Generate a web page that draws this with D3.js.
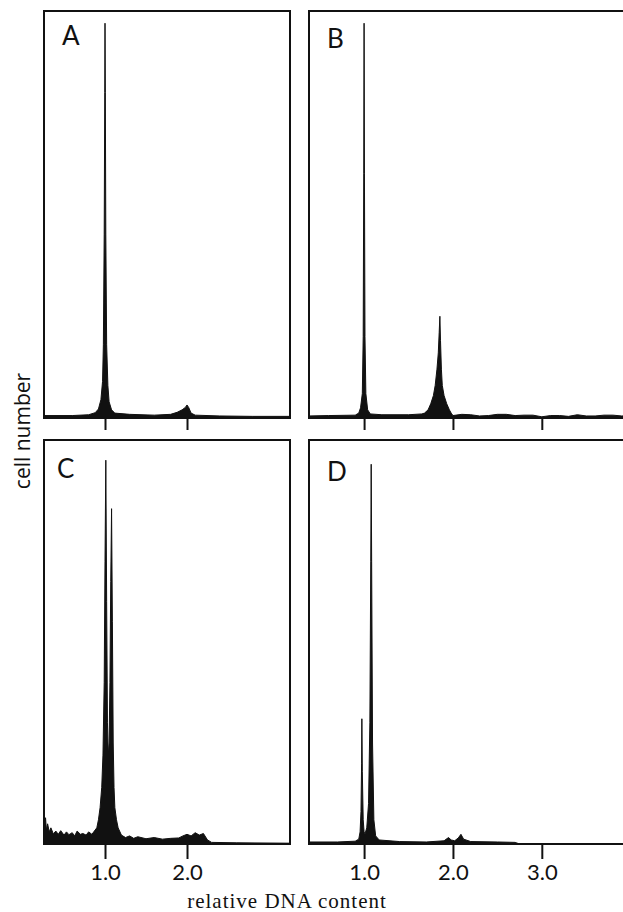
<!DOCTYPE html>
<html>
<head>
<meta charset="utf-8">
<script src="https://cdn.jsdelivr.net/npm/d3@7"></script>
<style>
  html, body { margin: 0; padding: 0; background: #fff; }
  svg { display: block; }
</style>
</head>
<body>
<svg id="chart" width="623" height="912"></svg>
<script>
// ---------------- DATA ----------------
// Relative DNA content (x) and cell number (y, % of panel height) for each histogram
const panelLabels = ["A", "B", "C", "D"];
const tickValuesAC = [1, 2];
const tickValuesBD = [1, 2, 3];
const tickLabels = { 1: "1.0", 2: "2.0", 3: "3.0" };
const yAxisTitle = "cell number";
const xAxisTitle = "relative DNA content";

const dnaA   = [0.26,0.6,0.8,0.88,0.92,0.95,0.97,0.98,0.99,0.997,1.0,1.004,1.01,1.02,1.035,1.05,1.08,1.12,1.3,1.6,1.8,1.88,1.94,1.98,2.0,2.02,2.05,2.1,2.4,2.8,3.25];
const countA = [0.6,0.6,0.8,1.3,2.2,4.5,9,18,45,80,97,80,45,18,8,4,2,1.2,0.9,0.7,0.9,1.4,2.0,2.6,3.2,2.6,1.2,0.7,0.5,0.4,0.4];

const dnaB   = [0.38,0.6,0.9,0.94,0.96,0.98,0.99,0.996,1.0,1.004,1.01,1.02,1.04,1.07,1.2,1.5,1.65,1.68,1.72,1.75,1.78,1.80,1.82,1.835,1.845,1.853,1.86,1.87,1.88,1.90,1.93,1.96,1.98,2.0,2.1,2.2,2.3,2.4,2.5,2.6,2.7,2.8,2.9,3.0,3.1,3.2,3.3,3.4,3.5,3.6,3.7,3.8,3.9,3.97];
const countB = [0.5,0.6,0.7,1.2,2.5,6,20,60,97,60,20,6,2.0,1.0,0.8,0.8,1.0,1.2,2,3.5,5.5,8,12,16,21,25,19,12,8,5.5,3.5,2,1.2,0.6,0.9,0.8,0.5,0.6,0.9,0.9,0.6,0.7,0.7,0.3,0.6,0.6,0.4,0.8,0.5,0.5,0.7,0.7,0.5,0.6];

const dnaC   = [0.256,0.265,0.275,0.285,0.3,0.32,0.34,0.37,0.4,0.43,0.46,0.5,0.53,0.56,0.6,0.63,0.66,0.7,0.73,0.77,0.8,0.84,0.87,0.9,0.92,0.94,0.96,0.975,0.99,1.0,1.01,1.02,1.03,1.04,1.05,1.06,1.07,1.08,1.09,1.1,1.11,1.12,1.14,1.16,1.2,1.25,1.3,1.35,1.4,1.5,1.6,1.7,1.8,1.9,1.95,2.0,2.05,2.1,2.15,2.2,2.25,2.3,2.6,3.256];
const countC = [6,4,6.5,3.5,5,3,4,2.5,3.2,2.4,3.3,2.2,3.0,2.3,2.8,2.0,3.2,2.4,2.6,2.2,3.0,2.4,3.2,4,6,9,14,22,40,70,95,60,30,22,25,40,65,83,55,25,14,9,6,4,2.2,1.6,2.0,1.4,1.8,1.3,1.6,1.2,1.4,1.5,2.0,2.4,2.0,2.8,2.2,2.6,1.0,0.4,0.3,0.2];

const dnaD   = [0.38,0.7,0.9,0.94,0.955,0.965,0.972,0.975,0.98,0.99,1.0,1.01,1.03,1.05,1.065,1.075,1.08,1.085,1.095,1.11,1.13,1.17,1.4,1.7,1.9,1.95,1.98,2.02,2.06,2.09,2.12,2.2,2.5,2.7,2.75,3.97];
const countD = [0.5,0.5,0.7,1.2,3,8,20,31,18,6,3,2.5,4,10,30,70,94,70,25,6,2,1.0,0.6,0.5,0.8,1.6,1.0,0.8,1.5,2.4,1.2,0.6,0.5,0.4,0,0];

// ---------------- LAYOUT ----------------
const svg = d3.select("#chart");
const panels = [
  { label: panelLabels[0], x: dnaA, y: countA, domain: [0.256, 3.256], left: 44,  right: 290, top: 11,  bottom: 418, ticks: tickValuesAC, tickLen: 12, showLabels: false, lx: 62,  ly: 45 },
  { label: panelLabels[1], x: dnaB, y: countB, domain: [0.38, 3.97],   left: 309, right: 628, top: 11,  bottom: 418, ticks: tickValuesBD, tickLen: 12, showLabels: false, lx: 327, ly: 48 },
  { label: panelLabels[2], x: dnaC, y: countC, domain: [0.256, 3.256], left: 44,  right: 290, top: 440, bottom: 844, ticks: tickValuesAC, tickLen: 15, showLabels: true,  lx: 57,  ly: 478 },
  { label: panelLabels[3], x: dnaD, y: countD, domain: [0.38, 3.97],   left: 309, right: 628, top: 440, bottom: 844, ticks: tickValuesBD, tickLen: 15, showLabels: true,  lx: 327, ly: 481 }
];

panels.forEach(p => {
  const g = svg.append("g");
  const xs = d3.scaleLinear().domain(p.domain).range([p.left, p.right]);
  const ys = d3.scaleLinear().domain([0, 100]).range([p.bottom, p.top]);
  const data = p.x.map((v, i) => [v, p.y[i]]);

  const area = d3.area()
    .x(d => xs(d[0]))
    .y0(ys(0))
    .y1(d => ys(d[1]))
    .curve(d3.curveLinear);

  g.append("path")
    .datum(data)
    .attr("d", area)
    .attr("fill", "#111")
    .attr("stroke", "#111")
    .attr("stroke-width", 1)
    .attr("stroke-linejoin", "round");

  // frame
  g.append("rect")
    .attr("x", p.left).attr("y", p.top)
    .attr("width", p.right - p.left).attr("height", p.bottom - p.top)
    .attr("fill", "none").attr("stroke", "#111").attr("stroke-width", 2);

  // axis ticks
  const axis = d3.axisBottom(xs)
    .tickValues(p.ticks)
    .tickSize(p.tickLen)
    .tickPadding(5)
    .tickFormat(d => p.showLabels ? tickLabels[d] : "");
  const ag = g.append("g")
    .attr("transform", `translate(0,${p.bottom})`)
    .call(axis);
  ag.select(".domain").remove();
  ag.selectAll(".tick line").attr("stroke", "#111").attr("stroke-width", 2);
  ag.selectAll(".tick text")
    .attr("fill", "#111")
    .style("font-family", "Lato, 'Open Sans', sans-serif")
    .style("font-size", "22px");

  // panel label
  g.append("text")
    .attr("x", p.lx).attr("y", p.ly)
    .text(p.label)
    .style("font-family", "Lato, 'Open Sans', sans-serif")
    .style("font-size", "26px")
    .attr("fill", "#111");
});

// axis titles
svg.append("text")
  .attr("transform", "translate(30,431) rotate(-90)")
  .attr("text-anchor", "middle")
  .text(yAxisTitle)
  .style("font-family", "'Open Sans', Lato, sans-serif")
  .style("font-size", "21px")
  .attr("fill", "#111");

svg.append("text")
  .attr("x", 287).attr("y", 908)
  .attr("text-anchor", "middle")
  .text(xAxisTitle)
  .style("font-family", "'Liberation Serif', serif")
  .style("font-size", "21px")
  .style("letter-spacing", "1px")
  .attr("fill", "#111");
</script>
</body>
</html>
